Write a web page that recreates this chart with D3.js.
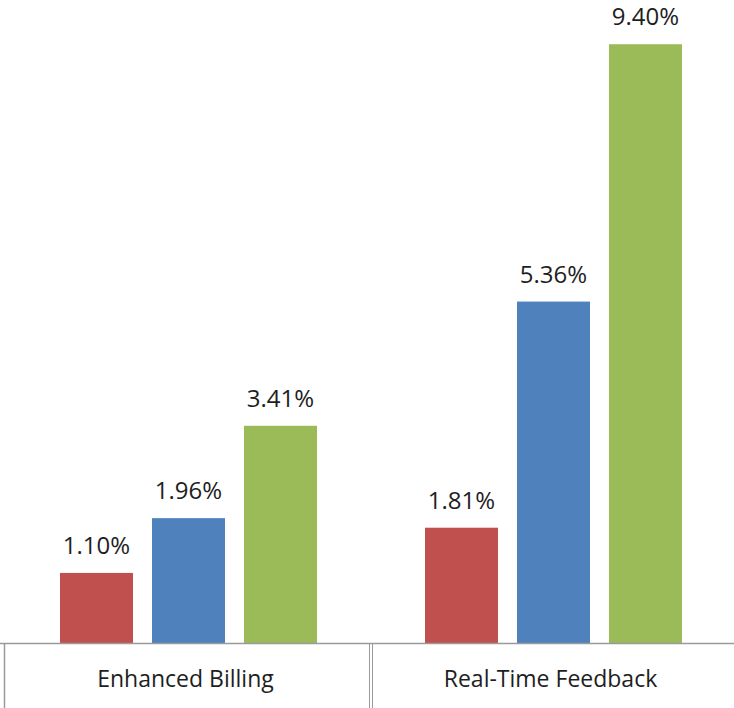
<!DOCTYPE html>
<html><head><meta charset="utf-8">
<script src="https://cdn.jsdelivr.net/npm/d3@7"></script>
<style>body{margin:0;background:#fff}svg{display:block}</style>
</head><body>
<svg id="c" width="734" height="708"></svg>
<script>
const categories = ["Enhanced Billing", "Real-Time Feedback"];
const seriesNames = ["Series 1", "Series 2", "Series 3"];
const seriesColors = ["#C0504D", "#4F81BD", "#9BBB59"];
const values = [
  [1.10, 1.96, 3.41],
  [1.81, 5.36, 9.40]
];
const labels = [
  ["1.10%", "1.96%", "3.41%"],
  ["1.81%", "5.36%", "9.40%"]
];

const svg = d3.select("#c");
const x0 = d3.scaleBand().domain(categories).range([6, 736]).paddingInner(0).paddingOuter(0);
const x1 = d3.scaleBand().domain(seriesNames).range([0, x0.bandwidth()]).paddingInner(0.2065).paddingOuter(0.587);
const y = d3.scaleLinear().domain([0, 10]).range([643, 6]);

const g = svg.append("g");
categories.forEach((c, ci) => {
  const cg = g.append("g").attr("transform", `translate(${x0(c)},0)`);
  seriesNames.forEach((s, si) => {
    const v = values[ci][si];
    cg.append("rect")
      .attr("x", x1(s)).attr("width", x1.bandwidth())
      .attr("y", y(v)).attr("height", y(0) - y(v))
      .attr("fill", seriesColors[si]);
    cg.append("text")
      .attr("x", x1(s) + x1.bandwidth() / 2)
      .attr("y", y(v) - 19)
      .attr("text-anchor", "middle")
      .attr("font-family", "'Open Sans', sans-serif")
      .attr("font-size", 24)
      .attr("fill", "#1e1e1e")
      .text(labels[ci][si]);
  });
});

// axis
const axisColor = "#9a9a9a";
svg.append("line").attr("x1", 0).attr("x2", 734).attr("y1", y(0) + 0.5).attr("y2", y(0) + 0.5)
  .attr("stroke", axisColor).attr("stroke-width", 1.5);
svg.append("line").attr("x1", 4.5).attr("x2", 4.5).attr("y1", y(0)).attr("y2", 708)
  .attr("stroke", axisColor).attr("stroke-width", 1.5);
const divX = x0(categories[1]);
[divX - 2, divX + 1].forEach(xx => {
  svg.append("line").attr("x1", xx + 0.5).attr("x2", xx + 0.5).attr("y1", y(0)).attr("y2", 708)
    .attr("stroke", axisColor).attr("stroke-width", 1);
});
categories.forEach(c => {
  svg.append("text")
    .attr("x", x0(c) + x0.bandwidth() / 2 - 3)
    .attr("y", 687)
    .attr("text-anchor", "middle")
    .attr("font-family", "'Open Sans', sans-serif")
    .attr("font-size", 23)
    .attr("fill", "#1e1e1e")
    .text(c);
});
</script>
</body></html>
